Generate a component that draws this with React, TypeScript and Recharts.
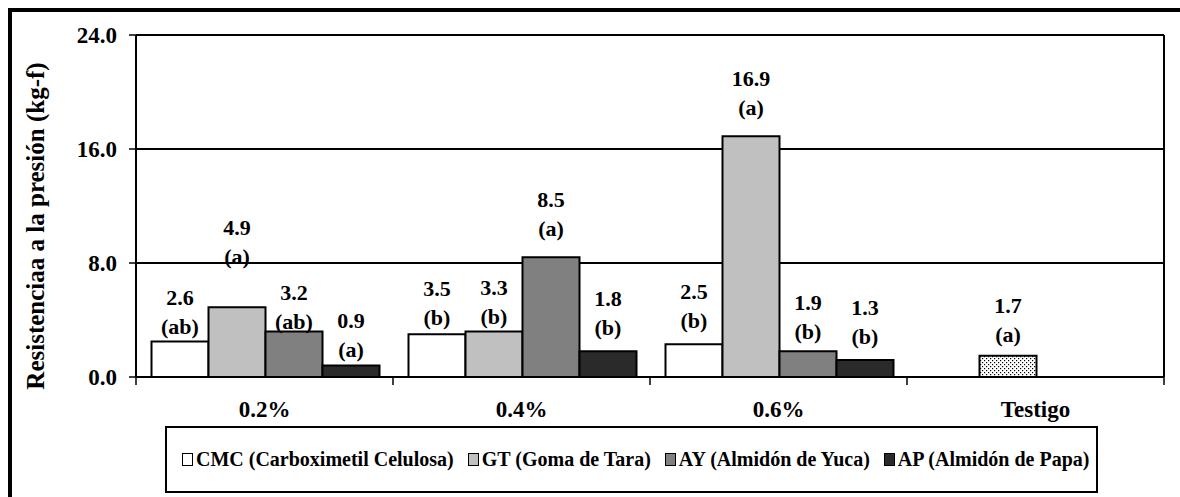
import React from "react";
import { Bar, BarChart, CartesianGrid, Cell, Label, LabelList, XAxis, YAxis } from "recharts";

// categorías y valores (alto de barra)
const categories = ["0.2%", "0.4%", "0.6%", "Testigo"];
const cmcValues = [2.5, 3.0, 2.3, null];
const gtValues = [4.9, 3.2, 16.9, 1.5];
const ayValues = [3.2, 8.4, 1.8, null];
const apValues = [0.8, 1.8, 1.2, null];

// textos de etiquetas
const cmcLabels = ["2.6", "3.5", "2.5", ""];
const cmcLetters = ["(ab)", "(b)", "(b)", ""];
const gtLabels = ["4.9", "3.3", "16.9", "1.7"];
const gtLetters = ["(a)", "(b)", "(a)", "(a)"];
const ayLabels = ["3.2", "8.5", "1.9", ""];
const ayLetters = ["(ab)", "(a)", "(b)", ""];
const apLabels = ["0.9", "1.8", "1.3", ""];
const apLetters = ["(a)", "(b)", "(b)", ""];

const yTicks = [0, 8, 16, 24];
const yTitle = "Resistenciaa a la presión (kg-f)";

const FONT = '"Liberation Serif", "Times New Roman", serif';
const W = 1172;
const H = 489;
const PLOT_W = 1028;
const BAND = PLOT_W / categories.length;

const data = categories.map((c, i) => ({
  category: c,
  cmc: cmcValues[i],
  gt: gtValues[i],
  ay: ayValues[i],
  ap: apValues[i],
}));

const series = [
  { key: "cmc", name: "CMC (Carboximetil Celulosa)", color: "#ffffff", labels: cmcLabels, letters: cmcLetters, lift: [15, 17, 24, 0] },
  { key: "gt", name: "GT (Goma de Tara)", color: "#c0c0c0", labels: gtLabels, letters: gtLetters, lift: [51, 15, 29, 21] },
  { key: "ay", name: "AY (Almidón de Yuca)", color: "#808080", labels: ayLabels, letters: ayLetters, lift: [10, 29, 20, 0] },
  { key: "ap", name: "AP (Almidón de Papa)", color: "#2a2a2a", labels: apLabels, letters: apLetters, lift: [16, 24, 23, 0] },
];

const textStyle = { fontFamily: FONT, fontWeight: "bold", fill: "#000" } as const;

const makeLabel = (labels: string[], letters: string[], lift: number[]) => (props: any) => {
  const { x, y, width, index } = props;
  if (!labels[index]) return null;
  const cx = Number(x) + Number(width) / 2;
  const base = Number(y) - lift[index];
  return (
    <g>
      <text x={cx} y={base - 29} textAnchor="middle" dominantBaseline="central" fontSize={22} {...textStyle}>
        {labels[index]}
      </text>
      <text x={cx} y={base} textAnchor="middle" dominantBaseline="central" fontSize={22} {...textStyle}>
        {letters[index]}
      </text>
    </g>
  );
};

const XTick = (props: any) => {
  const { x, y, payload, index } = props;
  const half = BAND / 2;
  return (
    <g>
      <line x1={x - half} x2={x - half} y1={y} y2={y + 8} stroke="#000" strokeWidth={1.5} />
      {index === categories.length - 1 && (
        <line x1={x + half} x2={x + half} y1={y} y2={y + 8} stroke="#000" strokeWidth={1.5} />
      )}
      <text x={x} y={y + 32} textAnchor="middle" dominantBaseline="central" fontSize={23} {...textStyle}>
        {payload.value}
      </text>
    </g>
  );
};

const YTitle = (props: any) => {
  const vb = props.viewBox;
  const cx = vb.x + 27;
  const cy = vb.y + vb.height / 2 + 20;
  return (
    <text
      x={cx}
      y={cy}
      transform={`rotate(-90 ${cx} ${cy})`}
      textAnchor="middle"
      dominantBaseline="central"
      fontSize={25}
      {...textStyle}
    >
      {yTitle}
    </text>
  );
};

export default function App() {
  return (
    <div style={{ position: "fixed", left: 0, top: 0, width: 1180, height: 497, overflow: "hidden", background: "#fff" }}>
      <style>{"html, body { overflow: hidden; }"}</style>
      <div style={{ position: "absolute", left: 8, top: 8, width: W, height: H, fontFamily: FONT }}>
        <svg width={0} height={0} style={{ position: "absolute" }}>
          <defs>
            <pattern id="dots" width={4} height={4} patternUnits="userSpaceOnUse">
              <rect width={4} height={4} fill="#fff" />
              <rect x={0} y={0} width={1.2} height={1.2} fill="#000" />
              <rect x={2} y={2} width={1.2} height={1.2} fill="#000" />
            </pattern>
          </defs>
        </svg>
        <div style={{ position: "absolute", left: 0, top: 0 }}>
          <BarChart
            width={W}
            height={H}
            data={data}
            margin={{ top: 27, right: 15, bottom: 80, left: 0 }}
            barCategoryGap={15.5}
            barGap={0}
          >
            <CartesianGrid vertical={false} stroke="#000" strokeWidth={2} />
            <XAxis
              dataKey="category"
              height={40}
              interval={0}
              tickLine={false}
              tickSize={0}
              tickMargin={0}
              axisLine={{ stroke: "#000", strokeWidth: 2 }}
              tick={<XTick />}
            />
            <YAxis
              domain={[0, 24]}
              ticks={yTicks}
              interval={0}
              width={128}
              tickSize={7}
              tickMargin={12}
              tickFormatter={(v: number) => v.toFixed(1)}
              axisLine={{ stroke: "#000", strokeWidth: 2 }}
              tickLine={{ stroke: "#000", strokeWidth: 1.5 }}
              tick={{ fontSize: 23, fontFamily: FONT, fontWeight: "bold", fill: "#000" }}
            >
              <Label content={<YTitle />} />
            </YAxis>
            <YAxis
              yAxisId="right"
              orientation="right"
              width={1}
              tick={false}
              tickLine={false}
              axisLine={{ stroke: "#000", strokeWidth: 2 }}
            />
            {series.map((s) => (
              <Bar
                key={s.key}
                dataKey={s.key}
                name={s.name}
                fill={s.color}
                stroke="#000"
                strokeWidth={2}
                isAnimationActive={false}
              >
                {s.key === "gt" &&
                  data.map((d, i) => (
                    <Cell key={i} fill={d.category === "Testigo" ? "url(#dots)" : s.color} />
                  ))}
                <LabelList content={makeLabel(s.labels, s.letters, s.lift)} />
              </Bar>
            ))}
          </BarChart>
        </div>
        <div
          style={{
            position: "absolute",
            left: 157,
            top: 418,
            width: 933,
            height: 67,
            boxSizing: "border-box",
            border: "2px solid #000",
            display: "flex",
            alignItems: "center",
            paddingLeft: 15,
            gap: 14,
            fontSize: 20,
            fontWeight: "bold",
            whiteSpace: "nowrap",
          }}
        >
          {series.map((s) => (
            <div key={s.key} style={{ display: "flex", alignItems: "center" }}>
              <span
                style={{
                  display: "inline-block",
                  width: 9,
                  height: 11,
                  background: s.color,
                  border: "1px solid #000",
                  marginRight: 3,
                }}
              />
              <span>{s.name}</span>
            </div>
          ))}
        </div>
        <div style={{ position: "absolute", left: 0, top: 0, width: W, height: 4, background: "#000" }} />
        <div style={{ position: "absolute", left: 0, top: 0, width: 4, height: H, background: "#000" }} />
      </div>
    </div>
  );
}
